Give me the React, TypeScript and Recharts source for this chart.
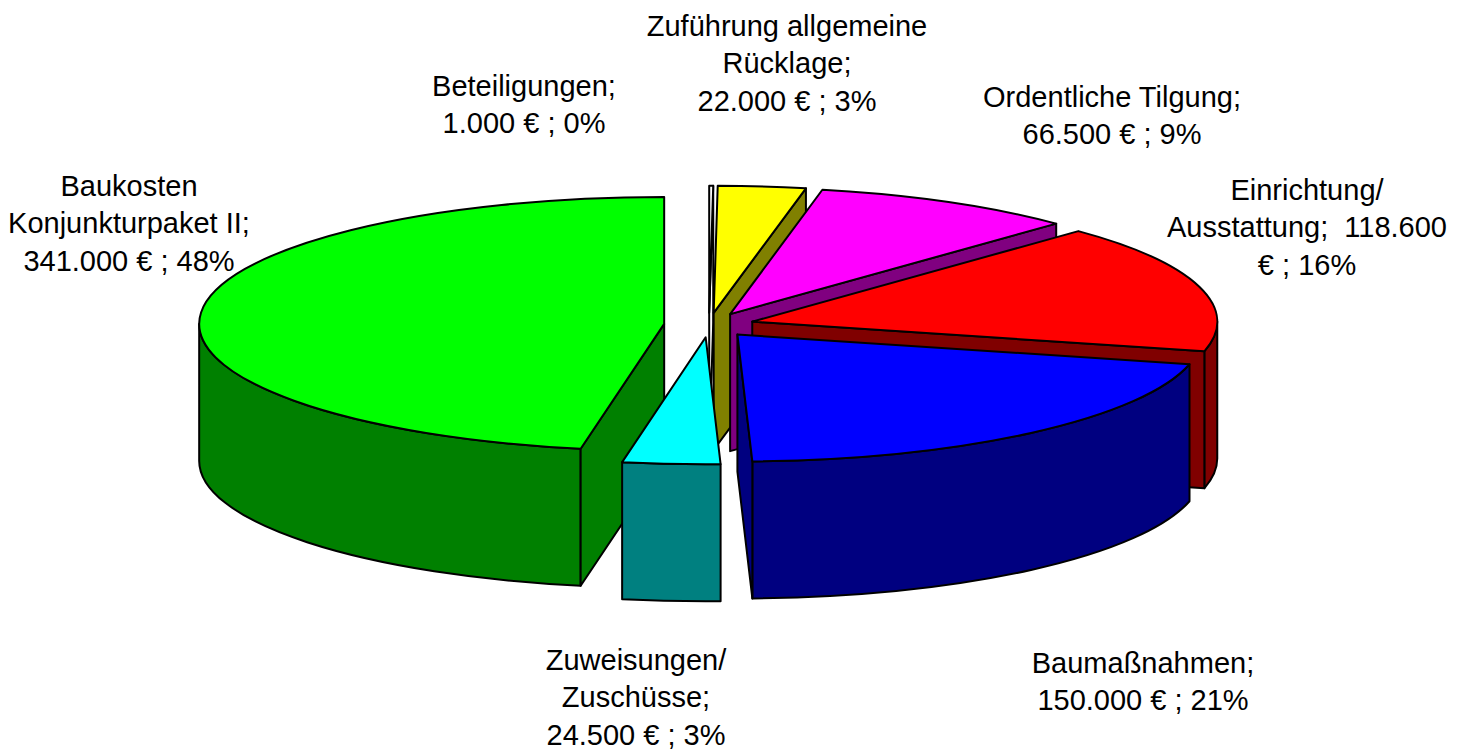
import { PieChart, Pie } from 'recharts';

// slices in drawing order (back to front), clockwise from the green one
const NAMES = [
  'Baukosten Konjunkturpaket II',
  'Beteiligungen',
  'Zuführung allgemeine Rücklage',
  'Ordentliche Tilgung',
  'Einrichtung/Ausstattung',
  'Baumaßnahmen',
  'Zuweisungen/Zuschüsse',
];
const VALUES = [341000, 1000, 22000, 66500, 118600, 150000, 24500];
const LABEL_LINES = [
  ['Baukosten', 'Konjunkturpaket II;', '341.000 € ; 48%'],
  ['Beteiligungen;', '1.000 € ; 0%'],
  ['Zuführung allgemeine', 'Rücklage;', '22.000 € ; 3%'],
  ['Ordentliche Tilgung;', '66.500 € ; 9%'],
  ['Einrichtung/', 'Ausstattung;  118.600', '€ ; 16%'],
  ['Baumaßnahmen;', '150.000 € ; 21%'],
  ['Zuweisungen/', 'Zuschüsse;', '24.500 € ; 3%'],
];

const TOP_COLORS = ['#00FF00', '#FFFFFF', '#FFFF00', '#FF00FF', '#FF0000', '#0000FF', '#00FFFF'];
const SIDE_COLORS = ['#008000', '#FFFFFF', '#808000', '#800080', '#800000', '#000080', '#008080'];
// label anchor: centre x, baseline of first line
const LABEL_POS = [
  [129, 196],
  [524, 96],
  [787, 36],
  [1112, 107],
  [1307, 200],
  [1143, 673],
  [636, 670],
];

const data = NAMES.map((name, i) => ({ name, value: VALUES[i] }));
const total = VALUES.reduce((a, b) => a + b, 0);
// green slice ends at 12 o'clock, the rest run clockwise from there
const START = 90 + (360 * VALUES[0]) / total;

const TILT = 0.273;
const DEPTH = 137;
const EXPLODE = 45;
const LINE_H = 37.3;
const RAD = Math.PI / 180;

function Slice3D(props: any) {
  const { cx, cy, outerRadius, startAngle, endAngle, index } = props;
  const rx = outerRadius;
  const ry = outerRadius * TILT;
  const mid = (startAngle + endAngle) / 2;
  const ox = cx + EXPLODE * Math.cos(mid * RAD);
  const oy = cy - EXPLODE * TILT * Math.sin(mid * RAD);
  const p = (a: number, z = 0) => `${ox + rx * Math.cos(a * RAD)},${oy - ry * Math.sin(a * RAD) + z}`;
  const hi = Math.max(startAngle, endAngle);
  const lo = Math.min(startAngle, endAngle);
  const large = hi - lo > 180 ? 1 : 0;

  const faces: string[] = [];
  // outer wall, front half only
  for (let k = -2; k <= 2; k++) {
    const a0 = Math.max(lo, 180 + 360 * k);
    const a1 = Math.min(hi, 360 + 360 * k);
    if (a1 - a0 > 0.01) {
      faces.push(`M${p(a1)} A${rx},${ry} 0 0 1 ${p(a0)} L${p(a0, DEPTH)} A${rx},${ry} 0 0 0 ${p(a1, DEPTH)} Z`);
    }
  }
  // cut faces facing the viewer
  if (Math.cos(hi * RAD) < -0.001) faces.push(`M${ox},${oy} L${p(hi)} L${p(hi, DEPTH)} L${ox},${oy + DEPTH} Z`);
  if (Math.cos(lo * RAD) > 0.001) faces.push(`M${ox},${oy} L${p(lo)} L${p(lo, DEPTH)} L${ox},${oy + DEPTH} Z`);
  const top = `M${ox},${oy} L${p(hi)} A${rx},${ry} 0 ${large} 1 ${p(lo)} Z`;

  const [lx, ly] = LABEL_POS[index];
  return (
    <g>
      {faces.map((d, i) => (
        <path key={i} d={d} fill={SIDE_COLORS[index]} stroke="#000" strokeWidth={2} strokeLinejoin="round" />
      ))}
      <path d={top} fill={TOP_COLORS[index]} stroke="#000" strokeWidth={2} strokeLinejoin="round" />
      <text x={lx} y={ly} textAnchor="middle" fontSize={29} fill="#000" style={{ whiteSpace: 'pre' }}>
        {LABEL_LINES[index].map((line, i) => (
          <tspan key={i} x={lx} dy={i === 0 ? 0 : LINE_H}>
            {line}
          </tspan>
        ))}
      </text>
    </g>
  );
}

export default function App() {
  return (
    <div style={{ position: 'absolute', left: 0, top: 0, width: 1467, height: 751, background: '#fff', fontFamily: '"Liberation Sans", Arial, sans-serif' }}>
      <PieChart width={1467} height={751} margin={{ top: 0, right: 0, bottom: 0, left: 0 }}>
        <Pie
          data={data}
          dataKey="value"
          nameKey="name"
          cx={709}
          cy={325}
          outerRadius={465}
          startAngle={START}
          endAngle={START - 360}
          fill="none"
          stroke="none"
          label={(props: any) => <Slice3D {...props} />}
          labelLine={false}
          isAnimationActive={false}
        />
      </PieChart>
    </div>
  );
}
